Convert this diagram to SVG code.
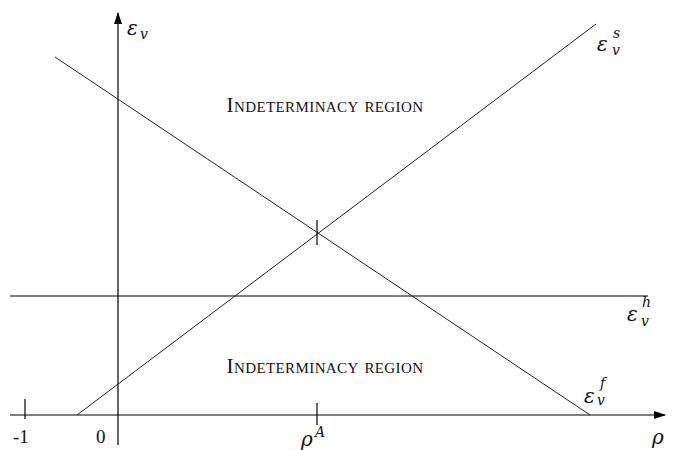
<svg xmlns="http://www.w3.org/2000/svg" width="677" height="450" viewBox="0 0 677 450">
<defs>
<marker id="arr" markerWidth="12" markerHeight="8" refX="11" refY="4" orient="auto" markerUnits="userSpaceOnUse">
<path d="M0,0 L12,4 L0,8 Z" fill="#000"/>
</marker>
<style>
.ax{stroke:#000;stroke-width:1.2;fill:none}
.ln{stroke:#222;stroke-width:1;fill:none}
.m{font-family:"DejaVu Serif","Liberation Serif",serif;font-style:italic;fill:#111}
.big{font-size:20px}
.sm{font-size:14px}
.t{font-family:"Liberation Serif","DejaVu Serif",serif;fill:#111;font-size:19px}
.sc{font-family:"Liberation Serif","DejaVu Serif",serif;font-variant:small-caps;font-size:21px;fill:#111;text-anchor:middle;letter-spacing:0.4px}
</style>
</defs>
<rect width="677" height="450" fill="#fff"/>
<g id="connectors">
<line class="ax" x1="118" y1="445" x2="118" y2="13" marker-end="url(#arr)"/>
<line class="ax" x1="10" y1="415" x2="665" y2="415" marker-end="url(#arr)"/>
<line class="ax" x1="10" y1="296" x2="648" y2="296"/>
<line class="ln" x1="77" y1="415" x2="596" y2="24"/>
<line class="ln" x1="55" y1="57" x2="590" y2="415"/>
<line class="ax" x1="317" y1="220" x2="317" y2="245"/>
<line class="ax" x1="317" y1="403" x2="317" y2="425"/>
<line class="ax" x1="25" y1="399" x2="25" y2="419"/>
</g>
<g id="labels">
<text class="m big" x="127" y="35">ε</text><text class="m sm" x="140" y="39">v</text>
<text class="m big" x="597" y="51">ε</text><text class="m sm" x="613" y="38">s</text><text class="m sm" x="612" y="55">v</text>
<text class="m big" x="627" y="321">ε</text><text class="m sm" x="642" y="307">h</text><text class="m sm" x="641" y="326">v</text>
<text class="m big" x="584" y="403">ε</text><text class="m sm" x="600" y="388">f</text><text class="m sm" x="597" y="405">v</text>
<text class="m big" x="652" y="444">ρ</text>
<text class="m big" x="301" y="446">ρ</text><text class="m sm" x="315" y="437">A</text>
<text class="t" x="13" y="443">-1</text>
<text class="t" x="96" y="443">0</text>
</g>
<g id="region-top"><text class="sc" x="325" y="112">Indeterminacy region</text></g>
<g id="region-bottom"><text class="sc" x="325" y="373">Indeterminacy region</text></g>
</svg>
